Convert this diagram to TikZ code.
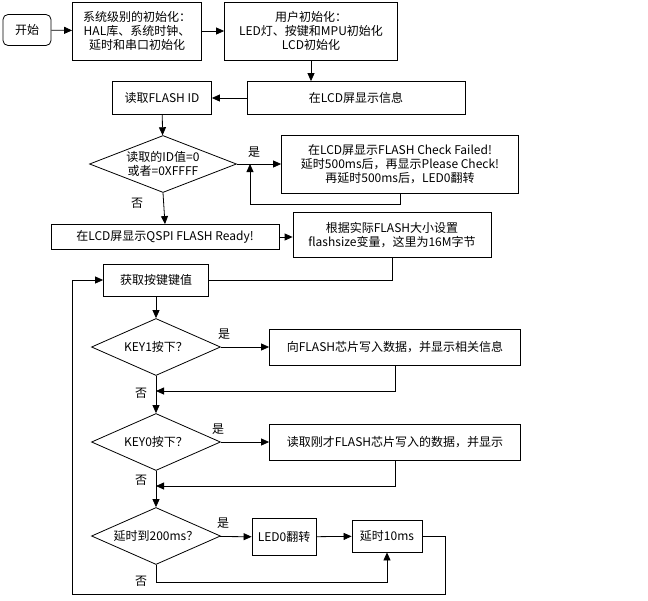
\documentclass[tikz,border=0pt]{standalone}
\usepackage{fontspec}
\setmainfont{Noto Sans CJK SC}
\usetikzlibrary{shapes.geometric,arrows.meta}
\begin{document}
\begin{tikzpicture}[x=1pt,y=-1pt,
  every node/.style={font=\fontsize{12}{14}\selectfont, inner sep=0pt},
  box/.style={draw, thick, align=center},
  dia/.style={draw, thick, diamond, aspect=2.26, minimum width=129, minimum height=57},
  lab/.style={font=\fontsize{12}{14}\selectfont},
  arr/.style={thick, -{Triangle[length=8pt,width=7pt]}},
  ln/.style={thick}]
\useasboundingbox (0,0) rectangle (648,600);
\node[box, rounded corners=5pt, minimum width=48, minimum height=31] (start) at (27,30) {开始};
\node[box, minimum width=129, minimum height=58] (sys) at (137,31) {系统级别的初始化：\\HAL库、系统时钟、\\延时和串口初始化};
\node[box, minimum width=173, minimum height=58] (user) at (311,31) {用户初始化：\\LED灯、按键和MPU初始化\\LCD初始化};
\node[box, minimum width=218, minimum height=33] (info) at (356,98) {在LCD屏显示信息};
\node[box, minimum width=99, minimum height=33] (rid) at (162,98) {读取FLASH ID};
\node[draw, thick, minimum width=147, minimum height=57, shape=diamond, aspect=2.6] (d1) at (163,164) {};
\node[align=center] at (163,164) {读取的ID值=0\\或者=0XFFFF};
\node[box, minimum width=237, minimum height=58] (fail) at (400,164) {在LCD屏显示FLASH Check Failed!\\延时500ms后，再显示Please Check!\\再延时500ms后，LED0翻转};
\node[box, minimum width=228, minimum height=25] (ready) at (165,237) {在LCD屏显示QSPI FLASH Ready!};
\node[box, minimum width=198, minimum height=45] (fsz) at (392,235) {根据实际FLASH大小设置\\flashsize变量，这里为16M字节};
\node[box, minimum width=105, minimum height=32] (key) at (156,280) {获取按键键值};
\node[dia] (d2) at (156,347) {};
\node at (156,347) {KEY1按下？};
\node[box, minimum width=251, minimum height=36] (wr) at (395,347) {向FLASH芯片写入数据，并显示相关信息};
\node[dia] (d3) at (156,442) {};
\node at (156,442) {KEY0按下？};
\node[box, minimum width=251, minimum height=36] (rd) at (395,442) {读取刚才FLASH芯片写入的数据，并显示};
\node[dia] (d4) at (156,536) {};
\node at (156,536) {延时到200ms？};
\node[box, minimum width=64, minimum height=37] (led) at (284,537) {LED0翻转};
\node[box, minimum width=70, minimum height=32] (dly) at (387,536) {延时10ms};
\coordinate (c1) at (250,164);
\coordinate (m2) at (156,391);
\coordinate (m3) at (156,486);
\draw[arr] (start) -- (sys);
\draw[arr] (sys) -- (user);
\draw[arr] (user.south |- 0,60) -- (user.south |- info.north);
\draw[arr] (info) -- (rid);
\draw[arr] (rid) -- (d1);
\draw[arr] (d1) -- (fail);
\draw[ln] (fail.south) -- ++(0,11) -| (250,174);
\draw[arr] (250,204) -- (c1);
\draw[arr] (d1.south) -- (ready.north);
\draw[arr] (ready) -- (fsz.west |- ready);
\draw[ln] (fsz.south) |- (key.east);
\draw[arr] (key) -- (d2);
\draw[arr] (d2) -- (wr);
\draw[arr] (wr.south) |- (m2);
\draw[arr] (d2.south) -- (d3.north);
\draw[arr] (d3) -- (rd);
\draw[arr] (rd.south) |- (m3);
\draw[arr] (d3.south) -- (d4.north);
\draw[arr] (d4) -- (led);
\draw[arr] (led) -- (dly);
\draw[arr] (d4.south) |- (387,582) -- (dly.south);
\draw[arr] (dly.east) -| (445,594) -| (72,280) -- (key.west);
\node[lab] at (254,152) {是};
\node[lab] at (137,203) {否};
\node[lab] at (224,334) {是};
\node[lab] at (141,393) {否};
\node[lab] at (218,429) {是};
\node[lab] at (141,480) {否};
\node[lab] at (223,523) {是};
\node[lab] at (141,581) {否};
\end{tikzpicture}
\end{document}
